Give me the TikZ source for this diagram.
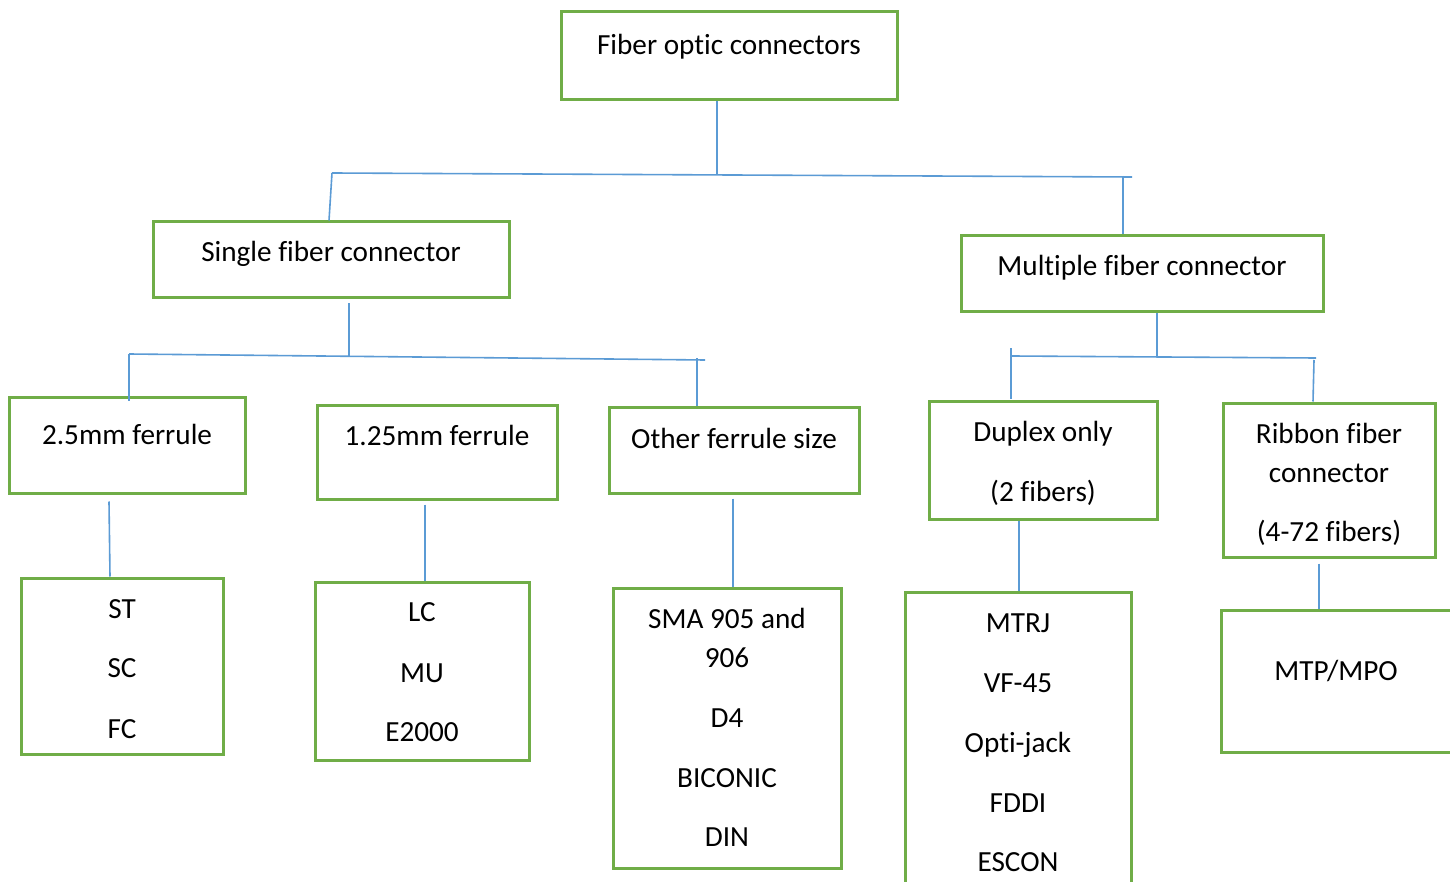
\documentclass[tikz,border=0pt]{standalone}
\usepackage{fontspec}
\setmainfont{Carlito}[Ligatures=NoCommon]
\definecolor{boxgreen}{HTML}{70AD47}
\definecolor{linkblue}{HTML}{5B9BD5}
\tikzset{
  catbox/.style={draw=boxgreen, line width=3pt, fill=none, inner sep=0pt},
  lbl/.style={anchor=base, inner sep=0pt, font=\fontsize{29.2}{35}\selectfont, text=black},
  link/.style={draw=linkblue, line width=1.6pt}
}
\newcommand{\boxat}[5]{%
  \node[catbox, minimum width={#4-#2}, minimum height={#5-#3}] (#1) at ({(#2+#4)/2},{(#3+#5)/2}) {};}
\begin{document}
\begin{tikzpicture}[x=1pt,y=-1pt]
\useasboundingbox (0,0) rectangle (1450,882);
\clip (0,0) rectangle (1450,882);
\fill[white] (0,0) rectangle (1450,882);

% category boxes
\boxat{top}{561}{12}{897}{100}
\boxat{single}{153}{222}{509}{298}
\boxat{multi}{961}{236}{1323}{312}
\boxat{ftwo}{9}{397}{245}{493}
\boxat{fone}{317}{405}{557}{499}
\boxat{fother}{609}{407}{859}{493}
\boxat{duplex}{929}{401}{1157}{519}
\boxat{ribbon}{1223}{403}{1435}{557}
\boxat{st}{21}{578}{223}{754}
\boxat{lc}{315}{582}{529}{760}
\boxat{sma}{613}{588}{841}{868}
\boxat{mtrj}{905}{592}{1131}{912}
\boxat{mtp}{1221}{610}{1451}{752}

% labels
\node[lbl] (ttop) at (729,55) {Fiber optic connectors};
\node[lbl] (tsingle) at (331,262) {Single fiber connector};
\node[lbl] (tmulti) at (1142,276) {Multiple fiber connector};
\node[lbl] (tftwo) at (127,444) {2.5mm ferrule};
\node[lbl] (tfone) at (437,445) {1.25mm ferrule};
\node[lbl] (tfother) at (734,448) {Other ferrule size};
\node[lbl] (tdup1) at (1043,441) {Duplex only};
\node[lbl] (tdup2) at (1043,501) {(2 fibers)};
\node[lbl] (trib1) at (1329,443) {Ribbon fiber};
\node[lbl] (trib2) at (1329,482) {connector};
\node[lbl] (trib3) at (1329,541) {(4-72 fibers)};
\node[lbl] (tst) at (122,618) {ST};
\node[lbl] (tsc) at (122,677) {SC};
\node[lbl] (tfc) at (122,738) {FC};
\node[lbl] (tlc) at (422,621) {LC};
\node[lbl] (tmu) at (422,682) {MU};
\node[lbl] (te2000) at (422,741) {E2000};
\node[lbl] (tsma1) at (727,628) {SMA 905 and};
\node[lbl] (tsma2) at (727,667) {906};
\node[lbl] (td4) at (727,727) {D4};
\node[lbl] (tbic) at (727,787) {BICONIC};
\node[lbl] (tdin) at (727,846) {DIN};
\node[lbl] (tmtrj) at (1018,632) {MTRJ};
\node[lbl] (tvf) at (1018,692) {VF-45};
\node[lbl] (topti) at (1018,752) {Opti-jack};
\node[lbl] (tfddi) at (1018,812) {FDDI};
\node[lbl] (tescon) at (1018,871) {ESCON};
\node[lbl] (tmtp) at (1336,680) {MTP/MPO};

% junction points of the connector trees
\coordinate (ja) at (717,175);
\coordinate (jaL) at (332,173);
\coordinate (jaR) at (1132,177);
\coordinate (jaM) at (1123,176);
\coordinate (jb) at (349,357);
\coordinate (jbL) at (129,354);
\coordinate (jbR) at (705,360);
\coordinate (jbM) at (697,358);
\coordinate (jc) at (1157,357);
\coordinate (jcL) at (1012,356);
\coordinate (jcR) at (1316,358);
\coordinate (jcD) at (1011,348);
\coordinate (jcM) at (1314,360);

% first level
\draw[link] (top.south -| ja) -- (ja);
\draw[link] (jaL) -- (jaR);
\draw[link] (jaL) -- ([xshift=-2pt]single.north);
\draw[link] (jaM) -- (jaM |- multi.north);

% single fiber branch
\draw[link] ([yshift=-4pt]single.south -| jb) -- (jb);
\draw[link] (jbL) -- (jbR);
\draw[link] (jbL) -- ([yshift=-5pt]jbL |- ftwo.north);
\draw[link] (jbM) -- (jbM |- fother.north);

% multiple fiber branch
\draw[link] (multi.south -| jc) -- (jc);
\draw[link] (jcL) -- (jcR);
\draw[link] (jcD) -- ([yshift=1pt]jcD |- duplex.north);
\draw[link] (jcM) -- ([xshift=-1pt]jcM |- ribbon.north);

% leaf connectors
\draw[link] ([yshift=-7pt]ftwo.south -| 109,0) -- ([xshift=1pt]st.north -| 109,0);
\draw[link] ([yshift=-4pt]fone.south -| 425,0) -- (lc.north -| 425,0);
\draw[link] ([yshift=-4pt]fother.south -| 733,0) -- (sma.north -| 733,0);
\draw[link] (duplex.south -| 1019,0) -- (mtrj.north -| 1019,0);
\draw[link] ([yshift=-5pt]ribbon.south -| 1319,0) -- (mtp.north -| 1319,0);
\end{tikzpicture}
\end{document}
